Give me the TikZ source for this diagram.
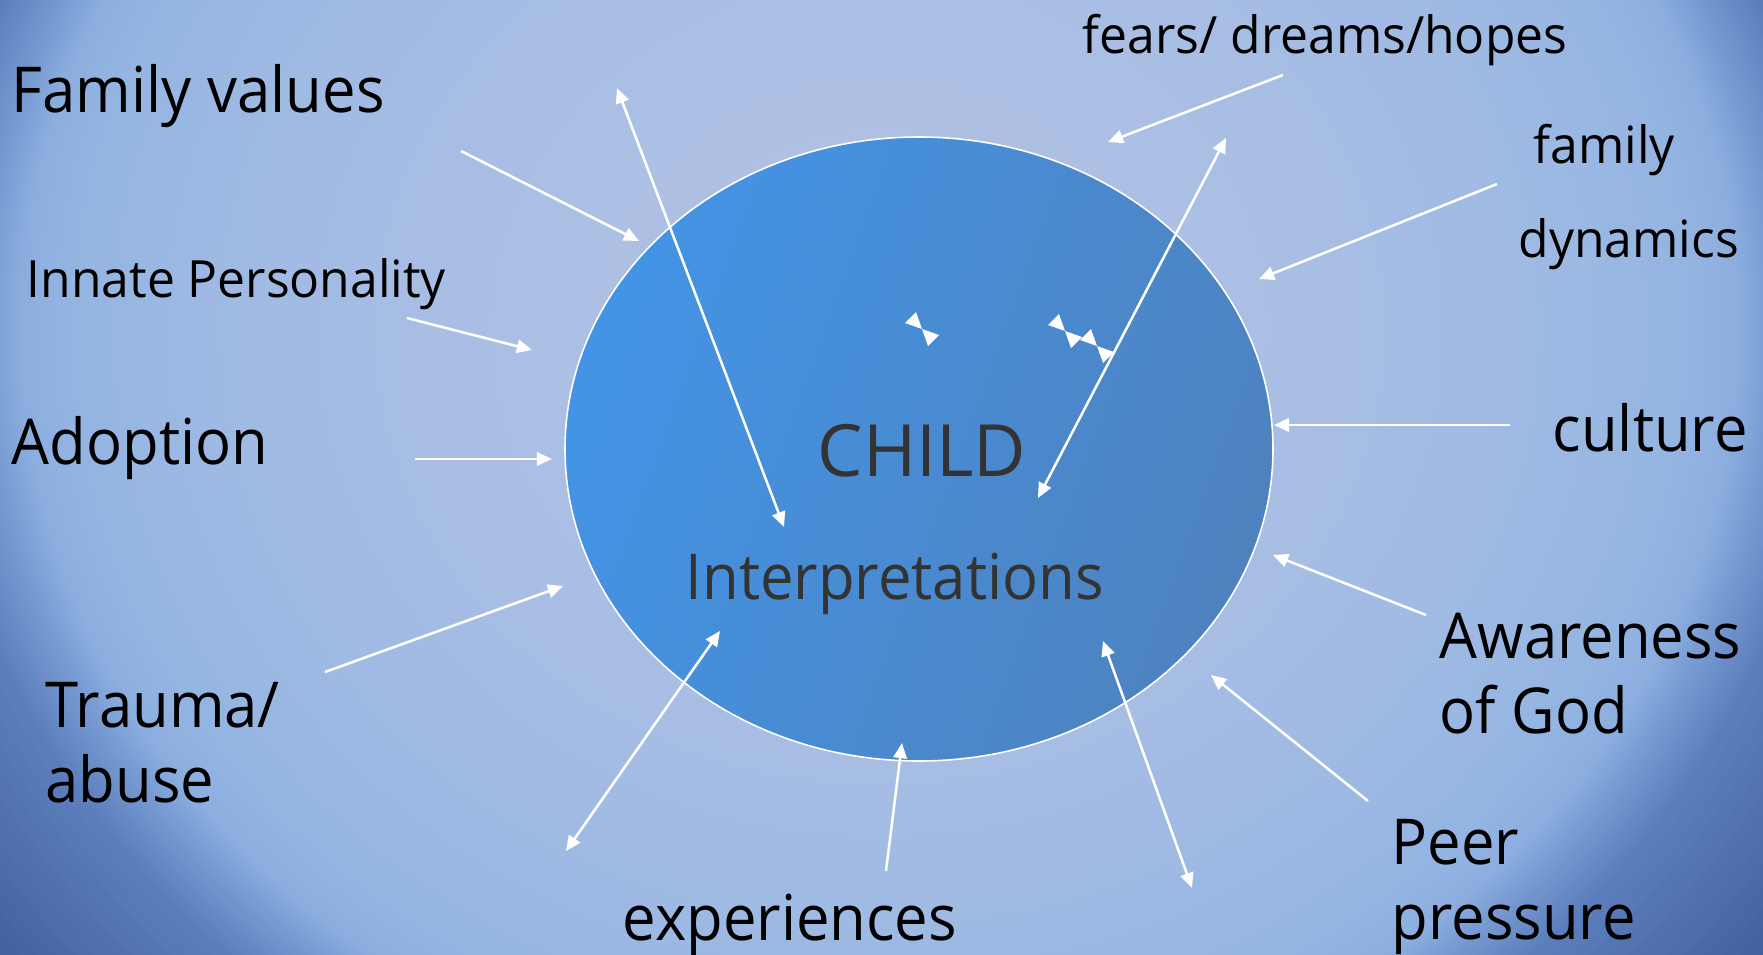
\documentclass[tikz,border=0pt]{standalone}
\usepackage{fontspec}
\setmainfont{Open Sans}
\newfontfamily\osbig[FakeStretch=0.945]{Open Sans}
\newfontfamily\ossmall[FakeStretch=0.97]{Open Sans}
\usetikzlibrary{arrows.meta}
\definecolor{txtdark}{HTML}{333333}
\definecolor{ellA}{HTML}{4394E6}
\definecolor{ellB}{HTML}{4E82BE}
\definecolor{bg0}{HTML}{B2C1E4}
\definecolor{bg1}{HTML}{ABBFE4}
\definecolor{bg2}{HTML}{A2BBE4}
\definecolor{bg3}{HTML}{9CB9E3}
\definecolor{bg4}{HTML}{93B3E2}
\definecolor{bg5}{HTML}{8CAEDF}
\definecolor{bg6}{HTML}{7A9ED4}
\definecolor{bg7}{HTML}{5E80BE}
\definecolor{bg8}{HTML}{44629F}
\definecolor{bg9}{HTML}{3A5590}
\newcommand\vband[4]{%
  \foreach \k in {0,...,11}{%
    \pgfmathsetmacro\rr{#1-(#1-#2)*\k/12}%
    \pgfmathsetmacro\pp{100*\k/12}%
    \fill[#4!\pp!#3] (880,330) ellipse [x radius=\rr*1000, y radius=\rr*900];
  }}
\tikzset{
  lbl/.style={anchor=base west, inner sep=0pt, text=black},
  big/.style={font=\osbig\fontsize{18pt}{22pt}\selectfont},
  small/.style={font=\ossmall\fontsize{14.6pt}{18pt}\selectfont},
  inner/.style={anchor=base west, inner sep=0pt, text=txtdark},
  conn/.style={draw=white, line width=0.72pt, -{Triangle[length=4.3pt,width=3.8pt]}},
  dconn/.style={draw=white, line width=0.72pt, {Triangle[length=4.3pt,width=3.8pt]}-{Triangle[length=4.3pt,width=3.8pt]}},
  bowtie/.pic={\fill[white] (-17,-6)--(-6,-17)--(0,0)--cycle (0,0)--(17,6)--(6,17)--cycle;}
}
\begin{document}
\begin{tikzpicture}[x=0.01cm, y=-0.01cm]
\useasboundingbox (0,0) rectangle (1763,954);
% background vignette
\begin{scope}
\clip (0,0) rectangle (1763,954);
\fill[bg9] (0,0) rectangle (1763,954);
\vband{1.30}{1.12}{bg9}{bg8}
\vband{1.12}{0.95}{bg8}{bg7}
\vband{0.95}{0.89}{bg7}{bg6}
\vband{0.89}{0.86}{bg6}{bg5}
\vband{0.86}{0.82}{bg5}{bg4}
\vband{0.82}{0.70}{bg4}{bg3}
\vband{0.70}{0.60}{bg3}{bg2}
\vband{0.60}{0.37}{bg2}{bg1}
\vband{0.37}{0.02}{bg1}{bg0}
\end{scope}
% ellipse
\shade[top color=ellA, bottom color=ellB, shading angle=70] (919,449) ellipse [x radius=354, y radius=312];
\draw[white, line width=0.45pt] (919,449) ellipse [x radius=354, y radius=312];
\node[inner sep=0pt] (child) at (919,449) {};

% labels
\node[lbl, big] (famval) at (11,112) {Family values};
\node[lbl, small] (innate) at (26,297) {Innate Personality};
\node[lbl, big] (adopt) at (11,464) {Adoption};
\node[lbl, big] (trauma) at (45,727) {Trauma/};
\node[lbl, big] (abuse) at (45,802) {abuse};
\node[lbl, big] (exper) at (622,940) {experiences};
\node[lbl, big] (peer) at (1391,864) {Peer};
\node[lbl, big] (press) at (1391,939) {pressure};
\node[lbl, big] (aware) at (1439,658) {Awareness};
\node[lbl, big] (ofgod) at (1439,733) {of God};
\node[lbl, big] (cult) at (1552,451) {culture};
\node[lbl, small] (fam) at (1533,163) {family};
\node[lbl, small] (dyn) at (1518,257) {dynamics};
\node[lbl, small] (fears) at (1082,53) {fears/ dreams/hopes};
\node[inner, font=\fontsize{20.5pt}{24pt}\selectfont] (childtxt) at (817,476) {CHILD};
\node[inner, big] (interp) at (685,599) {Interpretations};

% arrow endpoints
\coordinate (a1s) at (461,151);  \coordinate (a1e) at (639,241);
\coordinate (a2s) at (784,527);  \coordinate (a2e) at (617,88);
\coordinate (a3s) at (407,318);  \coordinate (a3e) at (532,350);
\coordinate (a4s) at (415,459);  \coordinate (a4e) at (552,459);
\coordinate (a5s) at (325,672);  \coordinate (a5e) at (563,586);
\coordinate (a6s) at (566,851);  \coordinate (a6e) at (720,631);
\coordinate (a7s) at (886,871);  \coordinate (a7e) at (902,743);
\coordinate (a8s) at (1192,888); \coordinate (a8e) at (1103,641);
\coordinate (a9s) at (1368,801); \coordinate (a9e) at (1211,675);
\coordinate (a10s) at (1426,615); \coordinate (a10e) at (1273,555);
\coordinate (a11s) at (1510,425); \coordinate (a11e) at (1274,425);
\coordinate (a12s) at (1497,184); \coordinate (a12e) at (1259,279);
\coordinate (a13s) at (1283,75);  \coordinate (a13e) at (1108,142);
\coordinate (a14s) at (1038,498); \coordinate (a14e) at (1226,138);

\draw[conn] (a1s) -- (a1e);
\draw[dconn] (a2s) -- (a2e);
\draw[conn] (a3s) -- (a3e);
\draw[conn] (a4s) -- (a4e);
\draw[conn] (a5s) -- (a5e);
\draw[dconn] (a6s) -- (a6e);
\draw[conn] (a7s) -- (a7e);
\draw[dconn] (a8s) -- (a8e);
\draw[conn] (a9s) -- (a9e);
\draw[conn] (a10s) -- (a10e);
\draw[conn] (a11s) -- (a11e);
\draw[conn] (a12s) -- (a12e);
\draw[conn] (a13s) -- (a13e);
\draw[dconn] (a14s) -- (a14e);

% small bowtie marks
\pic at (922,329) {bowtie};
\pic at (1065,331) {bowtie};
\pic at (1097,346) {bowtie};
\end{tikzpicture}
\end{document}
